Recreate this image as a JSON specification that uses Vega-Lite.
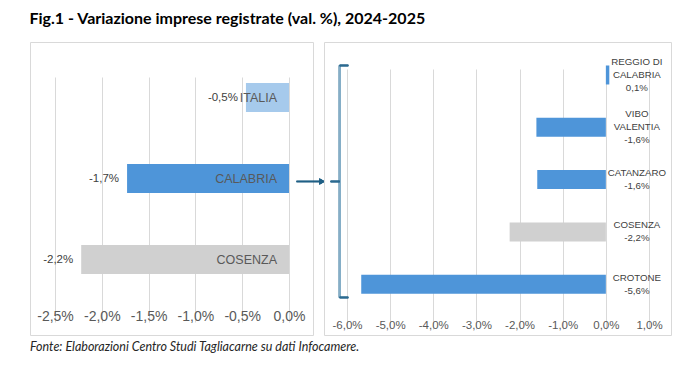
{
  "$schema": "https://vega.github.io/schema/vega-lite/v6.json",
  "background": "white",
  "padding": {"left": 29, "top": 10, "right": 5, "bottom": 5},
  "bounds": "flush",
  "spacing": 11,
  "resolve": {"scale": {"color": "independent", "x": "independent", "y": "independent"}},
  "title": {
    "text": "Fig.1 - Variazione imprese registrate (val. %), 2024-2025",
    "anchor": "start",
    "frame": "bounds",
    "font": "Lato",
    "fontSize": 16,
    "fontWeight": "bold",
    "color": "#000000",
    "offset": 15
  },
  "config": {
    "view": {"stroke": "#d9d9d9", "strokeWidth": 1},
    "font": "Liberation Sans",
    "text": {"font": "Liberation Sans"},
    "axis": {"labelColor": "#595959", "labelFont": "Liberation Sans", "gridColor": "#d9d9d9", "ticks": false, "domain": false, "title": null, "labelOverlap": false, "labelFlush": false}
  },
  "hconcat": [
    {
      "width": 283,
      "height": 293,
      "title": {
        "text": "Fonte: Elaborazioni Centro Studi Tagliacarne su dati Infocamere.",
        "orient": "bottom",
        "anchor": "start",
        "font": "Lato",
        "fontSize": 12.5,
        "fontStyle": "italic",
        "fontWeight": "normal",
        "color": "#262626",
        "offset": 6,
        "limit": 1000
      },
      "data": {
        "values": [
          {"area": "ITALIA", "valore": -0.46, "etichetta": "-0,5%"},
          {"area": "CALABRIA", "valore": -1.73, "etichetta": "-1,7%"},
          {"area": "COSENZA", "valore": -2.22, "etichetta": "-2,2%"}
        ]
      },
      "encoding": {
        "y": {
          "field": "area",
          "type": "nominal",
          "sort": null,
          "scale": {"domain": ["ITALIA", "CALABRIA", "COSENZA"], "range": [13, 258], "paddingInner": 0.642, "paddingOuter": 0.333, "align": 0.52},
          "axis": null
        }
      },
      "layer": [
        {
          "mark": {"type": "bar"},
          "encoding": {
            "x": {
              "field": "valore",
              "type": "quantitative",
              "scale": {"domain": [-2.5, 0], "range": [25, 259], "nice": false},
              "axis": {
                "values": [-2.5, -2, -1.5, -1, -0.5, 0],
                "labelExpr": "(datum.value < 0 ? '-' : '') + replace(format(abs(datum.value), '.1f'), '.', ',') + '%'",
                "labelFontSize": 14,
                "labelPadding": -26,
                "grid": true
              }
            },
            "color": {
              "field": "area",
              "type": "nominal",
              "scale": {"domain": ["ITALIA", "CALABRIA", "COSENZA"], "range": ["#a6caec", "#4e95d9", "#d0d0d0"]},
              "legend": null
            }
          }
        },
        {
          "mark": {"type": "text", "align": "right", "baseline": "middle", "dx": -8, "fontSize": 11.5, "color": "#404040"},
          "encoding": {
            "x": {"field": "valore", "type": "quantitative"},
            "text": {"field": "etichetta"}
          }
        },
        {
          "mark": {"type": "text", "align": "right", "baseline": "middle", "dx": -12, "fontSize": 12.5, "color": "#595959"},
          "encoding": {
            "x": {"datum": 0, "type": "quantitative"},
            "text": {"field": "area"}
          }
        },
        {
          "mark": {"type": "rule", "color": "#1f5f85", "strokeWidth": 1.5},
          "encoding": {
            "x": {"datum": 0.08, "type": "quantitative"},
            "x2": {"datum": 0.35},
            "y": {"datum": "CALABRIA", "type": "nominal", "bandPosition": 0.6}
          }
        },
        {
          "mark": {"type": "point", "shape": "triangle-right", "filled": true, "size": 45, "opacity": 1, "color": "#1f5f85"},
          "encoding": {
            "x": {"datum": 0.355, "type": "quantitative"},
            "y": {"datum": "CALABRIA", "type": "nominal", "bandPosition": 0.6}
          }
        }
      ]
    },
    {
      "width": 347,
      "height": 293,
      "data": {
        "values": [
          {"provincia": "REGGIO DI CALABRIA", "valore": 0.08, "etichetta": ["REGGIO DI", "CALABRIA", "0,1%"]},
          {"provincia": "VIBO VALENTIA", "valore": -1.61, "etichetta": ["VIBO", "VALENTIA", "-1,6%"]},
          {"provincia": "CATANZARO", "valore": -1.59, "etichetta": ["CATANZARO", "-1,6%"]},
          {"provincia": "COSENZA", "valore": -2.23, "etichetta": ["COSENZA", "-2,2%"]},
          {"provincia": "CROTONE", "valore": -5.67, "etichetta": ["CROTONE", "-5,6%"]}
        ]
      },
      "encoding": {
        "y": {
          "field": "provincia",
          "type": "nominal",
          "sort": null,
          "scale": {"domain": ["REGGIO DI CALABRIA", "VIBO VALENTIA", "CATANZARO", "COSENZA", "CROTONE"], "range": [6, 266], "paddingInner": 0.637, "paddingOuter": 0.304, "align": 0.55},
          "axis": null
        }
      },
      "layer": [
        {
          "mark": {"type": "bar"},
          "encoding": {
            "x": {
              "field": "valore",
              "type": "quantitative",
              "scale": {"domain": [-6, 1], "range": [23, 325], "nice": false},
              "axis": {
                "values": [-6, -5, -4, -3, -2, -1, 0, 1],
                "labelExpr": "(datum.value < 0 ? '-' : '') + replace(format(abs(datum.value), '.1f'), '.', ',') + '%'",
                "labelFontSize": 11.5,
                "labelPadding": -16,
                "grid": true
              }
            },
            "color": {
              "field": "provincia",
              "type": "nominal",
              "scale": {"domain": ["REGGIO DI CALABRIA", "VIBO VALENTIA", "CATANZARO", "COSENZA", "CROTONE"], "range": ["#4e95d9", "#4e95d9", "#4e95d9", "#d0d0d0", "#4e95d9"]},
              "legend": null
            }
          }
        },
        {
          "transform": [{"filter": "length(datum.etichetta) == 3"}],
          "mark": {"type": "text", "align": "center", "baseline": "middle", "dx": 31, "fontSize": 9.7, "lineHeight": 13, "color": "#404040"},
          "encoding": {
            "x": {"datum": 0, "type": "quantitative"},
            "y": {"field": "provincia", "type": "nominal", "bandPosition": -0.18},
            "text": {"field": "etichetta"}
          }
        },
        {
          "transform": [{"filter": "length(datum.etichetta) == 2"}],
          "mark": {"type": "text", "align": "center", "baseline": "middle", "dx": 31, "fontSize": 9.7, "lineHeight": 13, "color": "#404040"},
          "encoding": {
            "x": {"datum": 0, "type": "quantitative"},
            "y": {"field": "provincia", "type": "nominal", "bandPosition": 0.16},
            "text": {"field": "etichetta"}
          }
        },
        {
          "mark": {"type": "rule", "color": "#86aec7", "strokeWidth": 2},
          "encoding": {
            "x": {"datum": -6.17, "type": "quantitative"},
            "y": {"datum": "REGGIO DI CALABRIA", "type": "nominal", "bandPosition": 0},
            "y2": {"datum": "CROTONE", "bandPosition": 1.2}
          }
        },
        {
          "mark": {"type": "rule", "color": "#2b6a90", "strokeWidth": 1.5},
          "encoding": {
            "x": {"datum": -6.17, "type": "quantitative"},
            "x2": {"datum": -5.97},
            "y": {"datum": "REGGIO DI CALABRIA", "type": "nominal", "bandPosition": 0}
          }
        },
        {
          "mark": {"type": "rule", "color": "#2b6a90", "strokeWidth": 1.5},
          "encoding": {
            "x": {"datum": -6.17, "type": "quantitative"},
            "x2": {"datum": -5.97},
            "y": {"datum": "CROTONE", "type": "nominal", "bandPosition": 1.2}
          }
        },
        {
          "mark": {"type": "rule", "color": "#2b6a90", "strokeWidth": 1.5},
          "encoding": {
            "x": {"datum": -6.38, "type": "quantitative"},
            "x2": {"datum": -6.17},
            "y": {"datum": "CATANZARO", "type": "nominal", "bandPosition": 0.6}
          }
        }
      ]
    }
  ]
}
